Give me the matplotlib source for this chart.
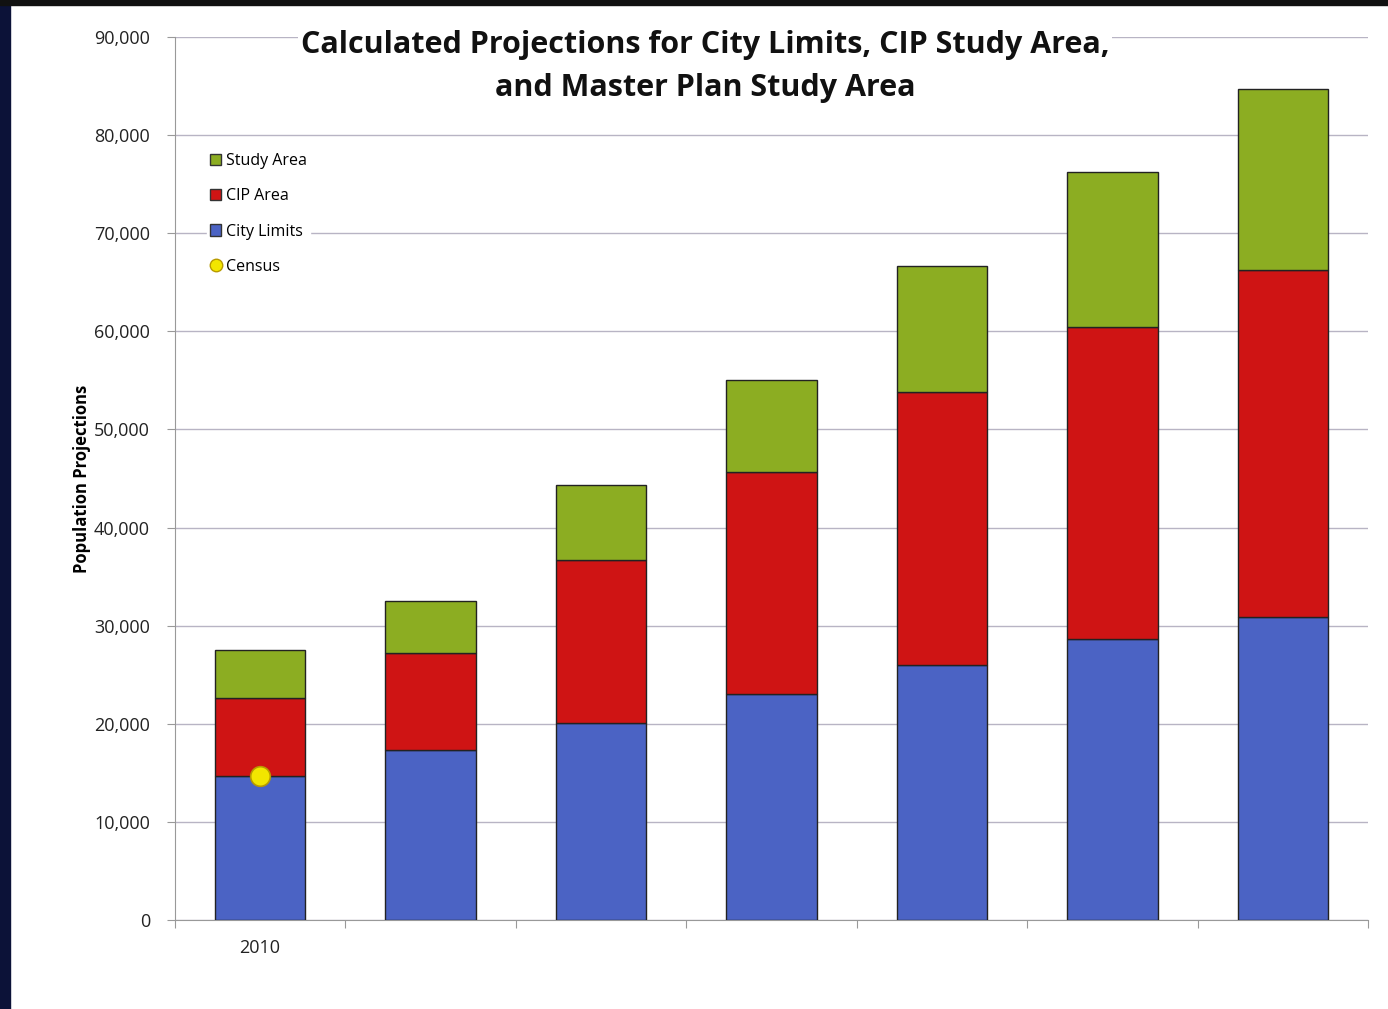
import matplotlib.pyplot as plt
import matplotlib.patches as mpatches
from matplotlib.lines import Line2D
import numpy as np

# values (population)
years = ["2010", "", "", "", "", "", ""]
city_limits = [14700, 17300, 20100, 23000, 26000, 28600, 30900]
cip_area = [7900, 9900, 16600, 22650, 27800, 31800, 35350]
study_area = [4900, 5300, 7650, 9400, 12850, 15800, 18450]
census = [14700]

c_city = "#4b63c4"
c_cip = "#cf1414"
c_study = "#8cad22"

fig = plt.figure(figsize=(13.88, 10.09), dpi=100)
fig.patch.set_facecolor("white")
# slide edges
fig.patches.append(mpatches.Rectangle((0, 0), 0.007, 1, transform=fig.transFigure,
                                      color="#0c1238", zorder=0))
fig.patches.append(mpatches.Rectangle((0, 0.995), 1, 0.005, transform=fig.transFigure,
                                      color="#111111", zorder=0))

ax = fig.add_axes([0.126, 0.0882, 0.8596, 0.8751])
x = np.arange(len(years))
w = 0.53
ax.bar(x, city_limits, w, color=c_city, edgecolor="#222222", linewidth=1, zorder=3)
bottom2 = np.array(city_limits)
ax.bar(x, cip_area, w, bottom=bottom2, color=c_cip, edgecolor="#222222", linewidth=1, zorder=3)
bottom3 = bottom2 + np.array(cip_area)
ax.bar(x, study_area, w, bottom=bottom3, color=c_study, edgecolor="#222222", linewidth=1, zorder=3)
ax.scatter([0], census, s=200, color="#f2e600", edgecolor="#b89a00", linewidth=1.2, zorder=5)

ax.set_xlim(-0.5, len(years) - 0.5)
ax.set_ylim(0, 90000)
ax.set_yticks(range(0, 90001, 10000))
ax.set_yticklabels([f"{v:,}" for v in range(0, 90001, 10000)], fontsize=13,
                   fontfamily="Open Sans", color="#222222")
ax.yaxis.grid(True, color="#b8b4c4", linewidth=1, zorder=0)
ax.set_axisbelow(True)

# category boundary ticks, labels centered
ax.set_xticks(np.arange(-0.5, len(years), 1))
ax.set_xticklabels([])
ax.set_xticks(x, minor=True)
ax.set_xticklabels(years, minor=True, fontsize=13, fontfamily="Open Sans", color="#222222")
ax.tick_params(axis="x", which="minor", length=0, pad=14)
ax.tick_params(axis="x", which="major", length=6, color="#999999")
ax.tick_params(axis="y", length=6, color="#999999", pad=12)

for s in ["top", "right"]:
    ax.spines[s].set_visible(False)
ax.spines["left"].set_color("#999999")
ax.spines["bottom"].set_color("#999999")

ax.set_ylabel("Population Projections", fontsize=12, fontweight="bold",
              fontfamily="Open Sans", labelpad=2)

handles = [
    mpatches.Patch(facecolor=c_study, edgecolor="#333333", label="Study Area"),
    mpatches.Patch(facecolor=c_cip, edgecolor="#333333", label="CIP Area"),
    mpatches.Patch(facecolor=c_city, edgecolor="#333333", label="City Limits"),
    Line2D([], [], marker="o", linestyle="", markersize=9, markerfacecolor="#f2e600",
           markeredgecolor="#b89a00", label="Census"),
]
leg = ax.legend(handles=handles, loc="upper left", bbox_to_anchor=(0.02, 0.881),
                frameon=True, fancybox=False, framealpha=1, edgecolor="white",
                prop={"family": "Open Sans", "size": 11.5}, handlelength=0.7,
                handleheight=0.7, handletextpad=0.3, labelspacing=1.2,
                borderpad=0.2)
leg.set_zorder(6)

fig.text(0.508, 0.934, "Calculated Projections for City Limits, CIP Study Area,\nand Master Plan Study Area",
         ha="center", va="center", fontsize=22, fontweight="bold", fontfamily="Open Sans",
         linespacing=1.55, color="#111111",
         bbox=dict(facecolor="white", edgecolor="none", pad=2))

fig.savefig("out.png", dpi=100)
